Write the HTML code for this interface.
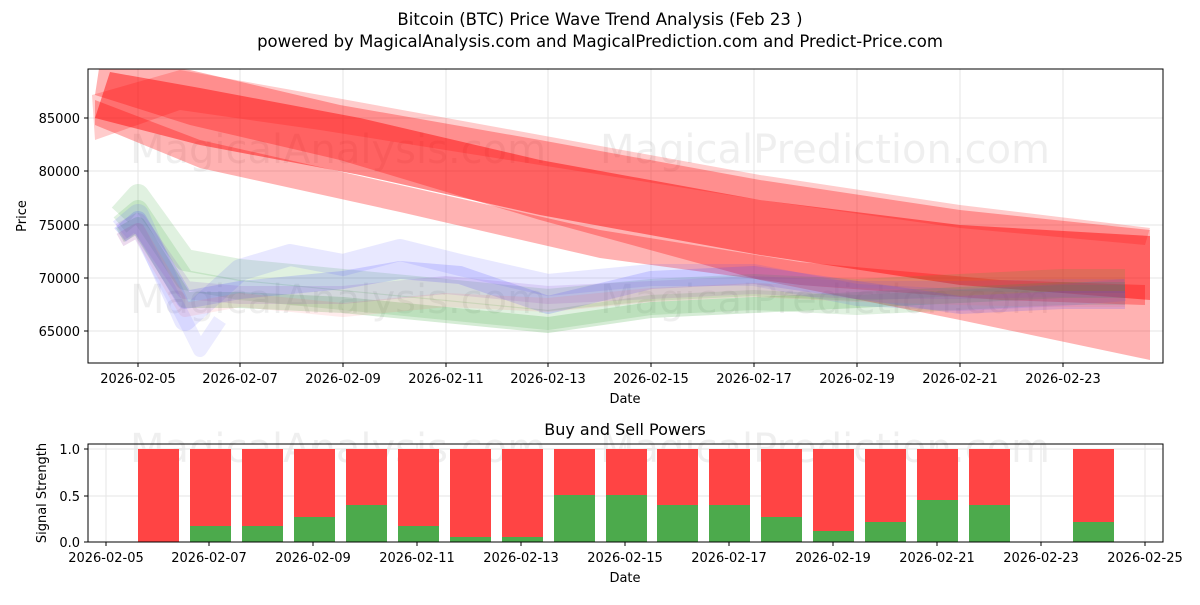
<!DOCTYPE html>
<html><head><meta charset="utf-8"><style>
body{margin:0;background:#fff;}
svg text{font-family:"DejaVu Sans","Liberation Sans",sans-serif;fill:#000;}
</style></head><body>
<svg width="1200" height="600" xmlns="http://www.w3.org/2000/svg">
<rect width="1200" height="600" fill="#fff"/>
<text x="600" y="25" font-size="16.5" text-anchor="middle">Bitcoin (BTC) Price Wave Trend Analysis (Feb 23 )</text>
<text x="600" y="47" font-size="16.5" text-anchor="middle">powered by MagicalAnalysis.com and MagicalPrediction.com and Predict-Price.com</text>
<defs><clipPath id="c1"><rect x="88" y="69" width="1075" height="294"/></clipPath></defs>
<g stroke="#e6e6e6" stroke-width="1">
<line x1="138" y1="69" x2="138" y2="363"/><line x1="240" y1="69" x2="240" y2="363"/><line x1="343" y1="69" x2="343" y2="363"/><line x1="446" y1="69" x2="446" y2="363"/><line x1="548" y1="69" x2="548" y2="363"/><line x1="651" y1="69" x2="651" y2="363"/><line x1="754" y1="69" x2="754" y2="363"/><line x1="857" y1="69" x2="857" y2="363"/><line x1="960" y1="69" x2="960" y2="363"/><line x1="1063" y1="69" x2="1063" y2="363"/>
<line x1="88" y1="118" x2="1163" y2="118"/><line x1="88" y1="171" x2="1163" y2="171"/><line x1="88" y1="225" x2="1163" y2="225"/><line x1="88" y1="278" x2="1163" y2="278"/><line x1="88" y1="331" x2="1163" y2="331"/>
</g>
<g font-size="40" opacity="0.06">
<text x="130" y="163">MagicalAnalysis.com</text><text x="600" y="163">MagicalPrediction.com</text>
<text x="130" y="313">MagicalAnalysis.com</text><text x="600" y="313">MagicalPrediction.com</text>
<text x="130" y="462">MagicalAnalysis.com</text><text x="600" y="462">MagicalPrediction.com</text>
</g>
<g clip-path="url(#c1)">
<polygon points="100,62 190,70 340,105 540,140 760,180 960,210 1150,230 1150,360 960,320 760,280 540,220 340,160 190,125 95,95" fill="#ff0000" opacity="0.3"/>
<polygon points="110,72 200,88 360,118 540,160 760,200 960,225 1150,236 1150,300 960,285 760,255 540,215 360,175 200,145 95,118" fill="#ff0000" opacity="0.45"/>
<polygon points="95,100 200,140 400,185 600,230 800,262 1000,280 1145,285 1145,305 1000,300 800,285 600,258 400,212 200,168 95,125" fill="#ff0000" opacity="0.3"/>
<polygon points="92,95 180,70 320,95 540,135 760,175 960,205 1150,228 1145,245 960,228 760,200 540,165 320,130 180,110 95,140" fill="#ff0000" opacity="0.2"/>
<g fill="none" stroke-linejoin="round">
<polyline points="120,215 138,195 185,260 240,270 343,280 446,290 548,300 651,290 754,285 857,290 960,285 1063,280 1125,280" stroke="#2ca02c" stroke-width="22" opacity="0.15"/>
<polyline points="120,225 138,210 185,280 240,290 343,300 446,310 548,320 651,305 754,300 857,305 960,300 1063,295 1125,295" stroke="#2ca02c" stroke-width="20" opacity="0.15"/>
<polyline points="120,235 138,225 185,300 240,300 343,305 446,315 548,325 651,310 754,305 857,300 960,295 1063,290 1125,290" stroke="#2ca02c" stroke-width="16" opacity="0.2"/>
<polyline points="120,230 138,215 185,320 240,270 290,255 343,265 400,250 460,265 548,285 651,275 754,275 857,295 960,300 1063,295 1125,290" stroke="#4444ff" stroke-width="22" opacity="0.12"/>
<polyline points="120,235 138,220 185,300 240,290 343,280 400,270 460,275 548,305 651,280 754,275 857,290 960,305 1063,300 1125,300" stroke="#4444ff" stroke-width="18" opacity="0.18"/>
<polyline points="120,232 138,222 185,290 240,295 343,295 446,285 548,295 651,290 754,285 857,290 960,290 1063,288 1125,288" stroke="#8844cc" stroke-width="18" opacity="0.15"/>
<polyline points="120,240 138,230 185,310 240,300 343,310 446,300 548,305 651,295 754,290 857,295 960,298 1063,300 1125,300" stroke="#ff6666" stroke-width="14" opacity="0.12"/>
<polyline points="120,240 138,230 185,320 200,350 220,320" stroke="#4444ff" stroke-width="14" opacity="0.1"/>
</g>
</g>
<rect x="88" y="69" width="1075" height="294" fill="none" stroke="#000" stroke-width="1"/>
<g stroke="#000">
<line x1="138" y1="363" x2="138" y2="367"/><line x1="240" y1="363" x2="240" y2="367"/><line x1="343" y1="363" x2="343" y2="367"/><line x1="446" y1="363" x2="446" y2="367"/><line x1="548" y1="363" x2="548" y2="367"/><line x1="651" y1="363" x2="651" y2="367"/><line x1="754" y1="363" x2="754" y2="367"/><line x1="857" y1="363" x2="857" y2="367"/><line x1="960" y1="363" x2="960" y2="367"/><line x1="1063" y1="363" x2="1063" y2="367"/>
<line x1="84" y1="118" x2="88" y2="118"/><line x1="84" y1="171" x2="88" y2="171"/><line x1="84" y1="225" x2="88" y2="225"/><line x1="84" y1="278" x2="88" y2="278"/><line x1="84" y1="331" x2="88" y2="331"/></g>
<g font-size="13" text-anchor="middle">
<text x="138" y="383">2026-02-05</text><text x="240" y="383">2026-02-07</text><text x="343" y="383">2026-02-09</text><text x="446" y="383">2026-02-11</text><text x="548" y="383">2026-02-13</text><text x="651" y="383">2026-02-15</text><text x="754" y="383">2026-02-17</text><text x="857" y="383">2026-02-19</text><text x="960" y="383">2026-02-21</text><text x="1063" y="383">2026-02-23</text>
<text x="625" y="403">Date</text>
</g>
<g font-size="13" text-anchor="end">
<text x="80" y="123">85000</text><text x="80" y="176">80000</text><text x="80" y="230">75000</text><text x="80" y="283">70000</text><text x="80" y="336">65000</text>
</g>
<text transform="translate(26,216) rotate(-90)" font-size="13" text-anchor="middle">Price</text>
<text x="625" y="435" font-size="16" text-anchor="middle">Buy and Sell Powers</text>
<g stroke="#e6e6e6"><line x1="88" y1="449" x2="1163" y2="449"/><line x1="88" y1="496" x2="1163" y2="496"/>
<line x1="106" y1="444" x2="106" y2="542"/><line x1="209" y1="444" x2="209" y2="542"/><line x1="313" y1="444" x2="313" y2="542"/><line x1="417" y1="444" x2="417" y2="542"/><line x1="521" y1="444" x2="521" y2="542"/><line x1="625" y1="444" x2="625" y2="542"/><line x1="729" y1="444" x2="729" y2="542"/><line x1="833" y1="444" x2="833" y2="542"/><line x1="937" y1="444" x2="937" y2="542"/><line x1="1041" y1="444" x2="1041" y2="542"/><line x1="1145" y1="444" x2="1145" y2="542"/></g>
<g fill="#ff4444">
<rect x="138" y="449" width="41" height="93"/><rect x="190" y="449" width="41" height="93"/><rect x="242" y="449" width="41" height="93"/><rect x="294" y="449" width="41" height="93"/><rect x="346" y="449" width="41" height="93"/><rect x="398" y="449" width="41" height="93"/><rect x="450" y="449" width="41" height="93"/><rect x="502" y="449" width="41" height="93"/><rect x="554" y="449" width="41" height="93"/><rect x="606" y="449" width="41" height="93"/><rect x="657" y="449" width="41" height="93"/><rect x="709" y="449" width="41" height="93"/><rect x="761" y="449" width="41" height="93"/><rect x="813" y="449" width="41" height="93"/><rect x="865" y="449" width="41" height="93"/><rect x="917" y="449" width="41" height="93"/><rect x="969" y="449" width="41" height="93"/><rect x="1073" y="449" width="41" height="93"/>
</g>
<g fill="#4caa4c">
<rect x="190" y="526" width="41" height="16"/><rect x="242" y="526" width="41" height="16"/><rect x="294" y="517" width="41" height="25"/><rect x="346" y="505" width="41" height="37"/><rect x="398" y="526" width="41" height="16"/><rect x="450" y="537" width="41" height="5"/><rect x="502" y="537" width="41" height="5"/><rect x="554" y="495" width="41" height="47"/><rect x="606" y="495" width="41" height="47"/><rect x="657" y="505" width="41" height="37"/><rect x="709" y="505" width="41" height="37"/><rect x="761" y="517" width="41" height="25"/><rect x="813" y="531" width="41" height="11"/><rect x="865" y="522" width="41" height="20"/><rect x="917" y="500" width="41" height="42"/><rect x="969" y="505" width="41" height="37"/><rect x="1073" y="522" width="41" height="20"/>
</g>
<rect x="88" y="444" width="1075" height="98" fill="none" stroke="#000"/>
<g stroke="#000">
<line x1="106" y1="542" x2="106" y2="546"/><line x1="209" y1="542" x2="209" y2="546"/><line x1="313" y1="542" x2="313" y2="546"/><line x1="417" y1="542" x2="417" y2="546"/><line x1="521" y1="542" x2="521" y2="546"/><line x1="625" y1="542" x2="625" y2="546"/><line x1="729" y1="542" x2="729" y2="546"/><line x1="833" y1="542" x2="833" y2="546"/><line x1="937" y1="542" x2="937" y2="546"/><line x1="1041" y1="542" x2="1041" y2="546"/><line x1="1145" y1="542" x2="1145" y2="546"/>
<line x1="84" y1="449" x2="88" y2="449"/><line x1="84" y1="496" x2="88" y2="496"/><line x1="84" y1="542" x2="88" y2="542"/></g>
<g font-size="13" text-anchor="middle">
<text x="106" y="562">2026-02-05</text><text x="209" y="562">2026-02-07</text><text x="313" y="562">2026-02-09</text><text x="417" y="562">2026-02-11</text><text x="521" y="562">2026-02-13</text><text x="625" y="562">2026-02-15</text><text x="729" y="562">2026-02-17</text><text x="833" y="562">2026-02-19</text><text x="937" y="562">2026-02-21</text><text x="1041" y="562">2026-02-23</text><text x="1145" y="562">2026-02-25</text>
<text x="625" y="582">Date</text></g>
<g font-size="13" text-anchor="end"><text x="80" y="454">1.0</text><text x="80" y="501">0.5</text><text x="80" y="547">0.0</text></g>
<text transform="translate(46,493) rotate(-90)" font-size="13" text-anchor="middle">Signal Strength</text>
</svg>
</body></html>
